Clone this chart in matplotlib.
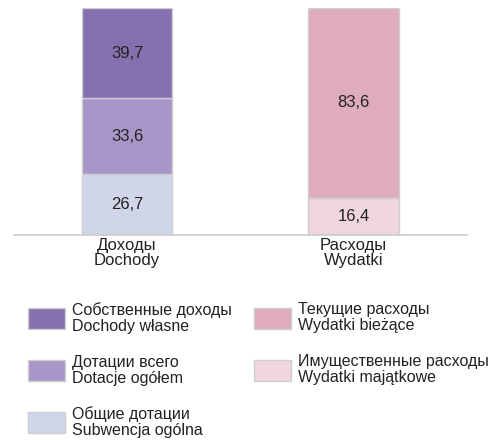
import matplotlib
matplotlib.use("Agg")
import matplotlib.pyplot as plt
from matplotlib.patches import Patch

plt.rcParams['font.family'] = ['Liberation Sans', 'DejaVu Sans']
plt.rcParams['font.size'] = 11.5

# data
categories = ["Доходы\nDochody", "Расходы\nWydatki"]
income_labels = ["Общие дотации\nSubwencja ogólna",
                 "Дотации всего\nDotacje ogółem",
                 "Собственные доходы\nDochody własne"]
income_values = [26.7, 33.6, 39.7]
income_colors = ["#D0D5EA", "#A996C8", "#8670B0"]
expense_labels = ["Имущественные расходы\nWydatki majątkowe",
                  "Текущие расходы\nWydatki bieżące"]
expense_values = [16.4, 83.6]
expense_colors = ["#EED5DE", "#DFABBF"]

edge = "#CFCFCF"
txt = "#222222"

fig = plt.figure(figsize=(4.94, 4.40), dpi=100)
ax = fig.add_axes([14 / 494, (440 - 235) / 440, 453 / 494, 227 / 440])

width = 0.40
bottom = 0
for val, col in zip(income_values, income_colors):
    bars = ax.bar(0, val, width, bottom=bottom, color=col, edgecolor=edge, linewidth=1)
    ax.bar_label(bars, labels=[f"{val:.1f}".replace(".", ",")], label_type="center",
                 color=txt, fontsize=12)
    bottom += val

bottom = 0
for val, col in zip(expense_values, expense_colors):
    bars = ax.bar(1, val, width, bottom=bottom, color=col, edgecolor=edge, linewidth=1)
    ax.bar_label(bars, labels=[f"{val:.1f}".replace(".", ",")], label_type="center",
                 color=txt, fontsize=12)
    bottom += val

ax.set_xlim(-0.499, 1.501)
ax.set_ylim(0, 100)
ax.set_xticks([0, 1])
ax.set_xticklabels(categories, color=txt, fontsize=12, linespacing=1.05)
ax.tick_params(axis="x", length=0, pad=2)
ax.set_yticks([])
for s in ("top", "left", "right"):
    ax.spines[s].set_visible(False)
ax.spines["bottom"].set_color("#CCCCCC")
ax.spines["bottom"].set_linewidth(1.2)
ax.patch.set_alpha(0)

# legend: income column first (top to bottom), then expenses
handles = []
labels = []
for lab, col in list(zip(income_labels, income_colors))[::-1]:
    handles.append(Patch(facecolor=col, edgecolor=edge))
    labels.append(lab)
for lab, col in list(zip(expense_labels, expense_colors))[::-1]:
    handles.append(Patch(facecolor=col, edgecolor=edge))
    labels.append(lab)

leg = fig.legend(handles, labels, ncol=2, loc="upper left",
                 bbox_to_anchor=(28 / 494, 1 - 302 / 440), frameon=False,
                 borderpad=0, borderaxespad=0, handlelength=2.3, handleheight=1.65,
                 handletextpad=0.45, columnspacing=1.4, labelspacing=1.3,
                 fontsize=11.5, labelcolor=txt)
for t in leg.get_texts():
    t.set_linespacing(1.08)

fig.savefig("out.png", dpi=100)
